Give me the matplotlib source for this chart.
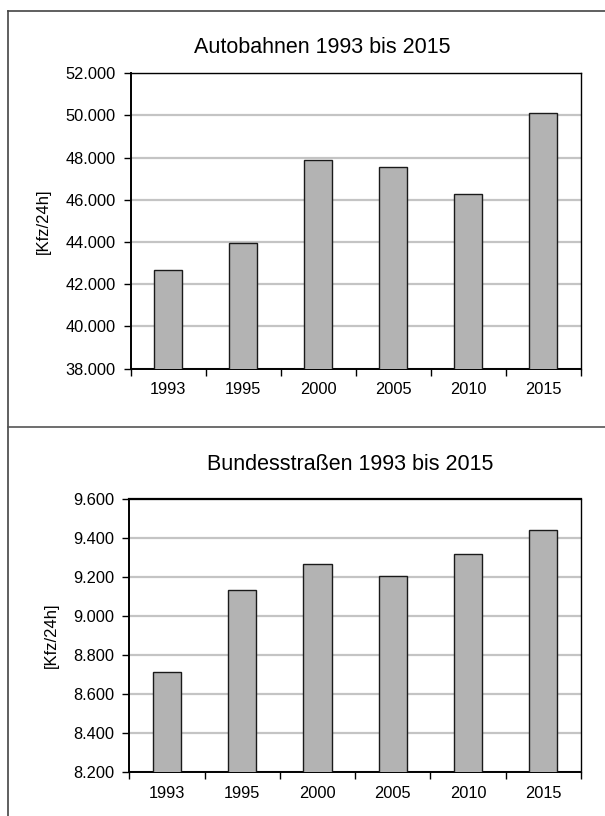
import numpy as np
import matplotlib
matplotlib.use('Agg')
import matplotlib.pyplot as plt
from matplotlib.lines import Line2D
from matplotlib.ticker import FuncFormatter

plt.rcParams['font.family'] = ['Liberation Sans', 'DejaVu Sans']

years = ['1993', '1995', '2000', '2005', '2010', '2015']
autobahn = [42660, 43970, 47870, 47560, 46280, 50110]
bundesstr = [8711, 9135, 9267, 9204, 9316, 9443]

W, H = 605, 816


def de_fmt(v, pos):
    # German thousands separator
    return f'{int(round(v)):,}'.replace(',', '.')


def panel(rect, values, ylim, step, title, title_xy, top_lw):
    ax = fig.add_axes(rect)
    x = np.arange(len(years))
    ax.bar(x, values, width=0.375, color='#b3b3b3', edgecolor='#1a1a1a',
           linewidth=1.0, zorder=3)
    ax.set_xlim(-0.5, len(years) - 0.5)
    ax.set_ylim(*ylim)
    ax.set_yticks(np.arange(ylim[0], ylim[1] + 1, step))
    ax.yaxis.set_major_formatter(FuncFormatter(de_fmt))
    ax.grid(axis='y', color='#c4c4c4', linewidth=1.6, zorder=0)
    ax.set_xticks(x)
    ax.set_xticklabels(years)
    ax.set_xticks(np.arange(-0.5, len(years)), minor=True)
    ax.tick_params(axis='x', which='major', length=0, pad=10, labelsize=11.8)
    ax.tick_params(axis='x', which='minor', length=5, width=1.0, direction='out')
    ax.tick_params(axis='y', length=5, width=1.0, pad=6, labelsize=11.8)
    for s in ['left', 'bottom']:
        ax.spines[s].set_linewidth(1.4)
    ax.spines['top'].set_linewidth(top_lw)
    ax.spines['right'].set_linewidth(1.0)
    ax.set_ylabel('[Kfz/24h]', fontsize=12, labelpad=10)
    fig.text(title_xy[0] / W, 1 - title_xy[1] / H, title, fontsize=15.5,
             ha='center', va='center')
    return ax


fig = plt.figure(figsize=(W / 100, H / 100), dpi=100)

panel([130.7 / W, 1 - 368.5 / H, 450 / W, 295.2 / H], autobahn,
      (38000, 52000), 2000, 'Autobahnen 1993 bis 2015', (322, 47.5), 1.0)
panel([129.3 / W, 1 - 771.8 / H, 451.7 / W, 272.8 / H], bundesstr,
      (8200, 9600), 200, 'Bundesstraßen 1993 bis 2015', (350, 464), 1.6)

# outer frame lines
fig.add_artist(Line2D([7.7 / W, 7.7 / W], [0, 1 - 10.7 / H], color='#444444', linewidth=1.2))
fig.add_artist(Line2D([7.7 / W, 1], [1 - 10.7 / H, 1 - 10.7 / H], color='#444444', linewidth=1.2))
fig.add_artist(Line2D([7.7 / W, 1], [1 - 426.7 / H, 1 - 426.7 / H], color='#555555', linewidth=1.2))

fig.savefig('out.png', dpi=100)
